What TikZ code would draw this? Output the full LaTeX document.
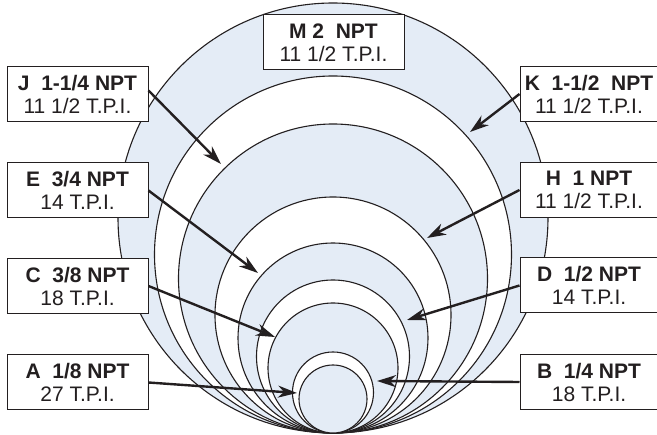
\documentclass[tikz,border=0pt]{standalone}
\usepackage{fontspec}
\setmainfont{Liberation Sans}
\usetikzlibrary{arrows.meta}
\definecolor{pipeblue}{RGB}{228,236,246}
\definecolor{ink}{RGB}{35,31,32}
\begin{document}
\begin{tikzpicture}[x=1pt,y=-1pt,
  ring/.style={draw=ink, line width=1.1pt},
  lab/.style={draw=ink, line width=1pt, fill=white, text=ink, align=center,
    inner sep=0pt, minimum height=55pt, font=\fontsize{21}{23}\selectfont},
  lbox/.style={lab, minimum width=141pt},
  rbox/.style={lab, minimum width=138pt},
  arr/.style={draw=ink, line width=2.4pt, -{Stealth[length=19pt,width=12pt,inset=6pt]}}]
\useasboundingbox (0,0) rectangle (657,435);
\clip (0,0) rectangle (657,435);
% concentric (tangent) circles, largest first
\foreach \r/\c in {215/pipeblue,178.5/white,154.5/pipeblue,118/white,95/pipeblue,76.5/white,65/pipeblue,40.5/white,34/pipeblue}
  \draw[ring, fill=\c] (333,433-\r) circle[radius=\r];
% labels
\node[lbox] (M) at (333.5,42.5) {\textbf{M 2\ \ NPT}\\11 1/2 T.P.I.};
\node[lbox] (J) at (77.5,94.5) {\textbf{J\ \ 1-1/4 NPT}\\11 1/2 T.P.I.};
\node[lbox] (E) at (77.5,190.5) {\textbf{E\ \ 3/4 NPT}\\14 T.P.I.};
\node[lbox] (C) at (77.5,286) {\textbf{C\ \ 3/8 NPT}\\18 T.P.I.};
\node[lbox] (A) at (77.5,382.5) {\textbf{A\ \ 1/8 NPT}\\27 T.P.I.};
\node[rbox] (K) at (589,94) {\textbf{K\ \ 1-1/2\ \ NPT}\\11 1/2 T.P.I.};
\node[rbox] (H) at (589,190) {\textbf{H\ \ 1 NPT}\\11 1/2 T.P.I.};
\node[rbox] (D) at (589,285.5) {\textbf{D\ \ 1/2 NPT}\\14 T.P.I.};
\node[rbox] (B) at (589,382) {\textbf{B\ \ 1/4 NPT}\\18 T.P.I.};
% arrow tips
\coordinate (tJ) at (221,164);
\coordinate (tE) at (258,273);
\coordinate (tC) at (275,337);
\coordinate (tA) at (297,393);
\coordinate (tK) at (470,132);
\coordinate (tH) at (427,238);
\coordinate (tD) at (407,320);
\coordinate (tB) at (377,381);
\draw[arr] ([yshift=4pt]J.east) -- (tJ);
\draw[arr] (E.east) -- (tE);
\draw[arr] (C.east) -- (tC);
\draw[arr] (A.east) -- (tA);
\draw[arr] (K.west) -- (tK);
\draw[arr] (H.west) -- (tH);
\draw[arr] (D.west) -- (tD);
\draw[arr] (B.west) -- (tB);
\end{tikzpicture}
\end{document}
